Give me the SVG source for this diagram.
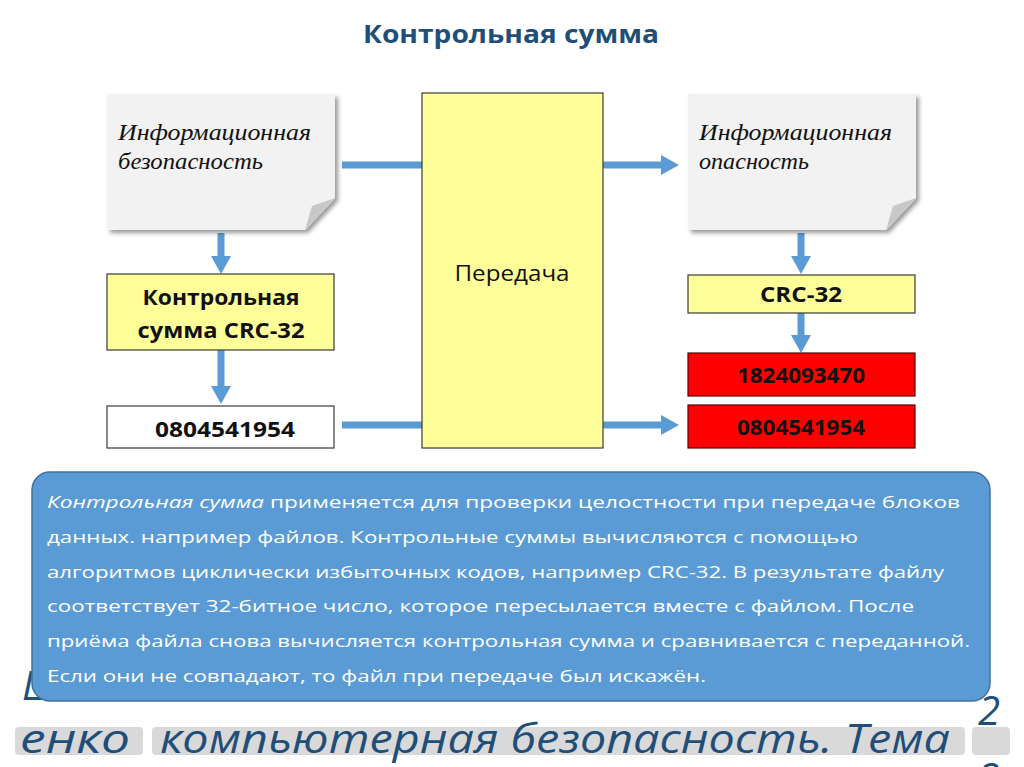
<svg xmlns="http://www.w3.org/2000/svg" width="1024" height="767" viewBox="0 0 1024 767">
<defs>
<filter id="sh" x="-10%" y="-10%" width="130%" height="130%">
<feDropShadow dx="3" dy="3" stdDeviation="2" flood-color="#000" flood-opacity="0.4"/>
</filter>
<marker id="ah" markerWidth="18" markerHeight="20" refX="0" refY="10" orient="auto" markerUnits="userSpaceOnUse">
<path d="M0,0 L18,10 L0,20 Z" fill="#5b9bd5"/>
</marker>
<style>
.title{font-family:"Open Sans","Liberation Sans",sans-serif;font-weight:bold;font-size:25px;fill:#1f4e79}
.doc{fill:#f2f2f2;filter:url(#sh)}
.fold{fill:#c8c8c8}
.script{font-family:"Liberation Serif",serif;font-style:italic;font-size:23px;fill:#111}
.yel{fill:#ffff99;stroke:#3a3a3a;stroke-width:1.2}
.wht{fill:#ffffff;stroke:#3a3a3a;stroke-width:1.2}
.red{fill:#ff0000;stroke:#5a0000;stroke-width:1.2}
.bt{font-family:"Open Sans","Liberation Sans",sans-serif;font-weight:bold;font-size:21px;fill:#111;text-anchor:middle}
.rt{font-family:"Open Sans","Liberation Sans",sans-serif;font-size:22px;fill:#111;text-anchor:middle}
.conn{stroke:#5b9bd5;stroke-width:7;fill:none}
.note{fill:#5b9bd5;stroke:#41719c;stroke-width:1.5}
.nt{font-family:"Open Sans","Liberation Sans",sans-serif;font-size:17px;fill:#ffffff}
.big{font-family:"Open Sans","Liberation Sans",sans-serif;font-style:italic;font-size:40px;fill:#1f4e79}
.hl{fill:#d9d9d9}
</style>
</defs>
<rect width="1024" height="767" fill="#ffffff"/>
<text class="title" x="511" y="43" text-anchor="middle" textLength="296" lengthAdjust="spacingAndGlyphs">Контрольная сумма</text>

<g id="footer">
<text class="big" x="22" y="700">Ш</text>
<rect class="hl" x="15" y="727" width="128" height="28" rx="4"/>
<rect class="hl" x="152" y="727" width="813" height="28" rx="4"/>
<rect class="hl" x="972" y="727" width="38" height="28" rx="4"/>
<text class="big" x="20" y="753" textLength="110" lengthAdjust="spacingAndGlyphs">енко</text>
<text class="big" x="160" y="753" textLength="790" lengthAdjust="spacingAndGlyphs">компьютерная безопасность. Тема</text>
<text class="big" x="978" y="725" font-style="normal">2</text>
<text class="big" x="978" y="792" font-style="normal">2</text>
</g>

<g id="connectors">
<line class="conn" x1="221" y1="233" x2="221" y2="256" marker-end="url(#ah)"/>
<line class="conn" x1="221" y1="350" x2="221" y2="386" marker-end="url(#ah)"/>
<line class="conn" x1="801" y1="233" x2="801" y2="256" marker-end="url(#ah)"/>
<line class="conn" x1="801" y1="313" x2="801" y2="335" marker-end="url(#ah)"/>
<line class="conn" x1="342" y1="165" x2="422" y2="165"/>
<line class="conn" x1="603" y1="165" x2="661" y2="165" marker-end="url(#ah)"/>
<line class="conn" x1="342" y1="425" x2="422" y2="425"/>
<line class="conn" x1="603" y1="425" x2="661" y2="425" marker-end="url(#ah)"/>
</g>

<g id="doc-left">
<path class="doc" d="M107,94 H335 V198 L305,230 H107 Z"/>
<path class="fold" d="M335,198 L305,230 L312,206 Z"/>
<text class="script" x="118" y="140" textLength="193" lengthAdjust="spacingAndGlyphs">Информационная</text>
<text class="script" x="118" y="169" textLength="145" lengthAdjust="spacingAndGlyphs">безопасность</text>
</g>

<g id="doc-right">
<path class="doc" d="M688,94 H916 V198 L886,230 H688 Z"/>
<path class="fold" d="M916,198 L886,230 L893,206 Z"/>
<text class="script" x="699" y="140" textLength="193" lengthAdjust="spacingAndGlyphs">Информационная</text>
<text class="script" x="699" y="169" textLength="110" lengthAdjust="spacingAndGlyphs">опасность</text>
</g>

<g id="transfer">
<rect class="yel" x="422" y="93" width="181" height="355"/>
<text class="rt" x="512" y="281" textLength="115" lengthAdjust="spacingAndGlyphs">Передача</text>
</g>

<g id="crc-left">
<rect class="yel" x="107" y="274" width="227" height="76"/>
<text class="bt" x="221" y="305" textLength="157" lengthAdjust="spacingAndGlyphs">Контрольная</text>
<text class="bt" x="221" y="338" textLength="167" lengthAdjust="spacingAndGlyphs">сумма CRC-32</text>
</g>

<g id="sum-left">
<rect class="wht" x="107" y="406" width="227" height="42"/>
<text class="bt" x="225" y="437" textLength="140" lengthAdjust="spacingAndGlyphs">0804541954</text>
</g>

<g id="crc-right">
<rect class="yel" x="688" y="275" width="227" height="38"/>
<text class="bt" x="801" y="302" textLength="82" lengthAdjust="spacingAndGlyphs">CRC-32</text>
</g>

<g id="sum-right-1">
<rect class="red" x="688" y="353" width="227" height="43"/>
<text class="bt" x="801" y="383" textLength="128" lengthAdjust="spacingAndGlyphs">1824093470</text>
</g>

<g id="sum-right-2">
<rect class="red" x="688" y="405" width="227" height="43"/>
<text class="bt" x="801" y="435" textLength="128" lengthAdjust="spacingAndGlyphs">0804541954</text>
</g>

<g id="note">
<rect class="note" x="32" y="472" width="958" height="229" rx="18"/>
<text class="nt" x="47" y="508" textLength="913" lengthAdjust="spacingAndGlyphs"><tspan font-style="italic">Контрольная сумма</tspan> применяется для проверки целостности при передаче блоков</text>
<text class="nt" x="47" y="543" textLength="811" lengthAdjust="spacingAndGlyphs">данных. например файлов. Контрольные суммы вычисляются с помощью</text>
<text class="nt" x="47" y="578" textLength="897" lengthAdjust="spacingAndGlyphs">алгоритмов циклически избыточных кодов, например CRC-32. В результате файлу</text>
<text class="nt" x="47" y="612" textLength="867" lengthAdjust="spacingAndGlyphs">соответствует 32-битное число, которое пересылается вместе с файлом. После</text>
<text class="nt" x="47" y="647" textLength="923" lengthAdjust="spacingAndGlyphs">приёма файла снова вычисляется контрольная сумма и сравнивается с переданной.</text>
<text class="nt" x="47" y="682" textLength="659" lengthAdjust="spacingAndGlyphs">Если они не совпадают, то файл при передаче был искажён.</text>
</g>
</svg>
